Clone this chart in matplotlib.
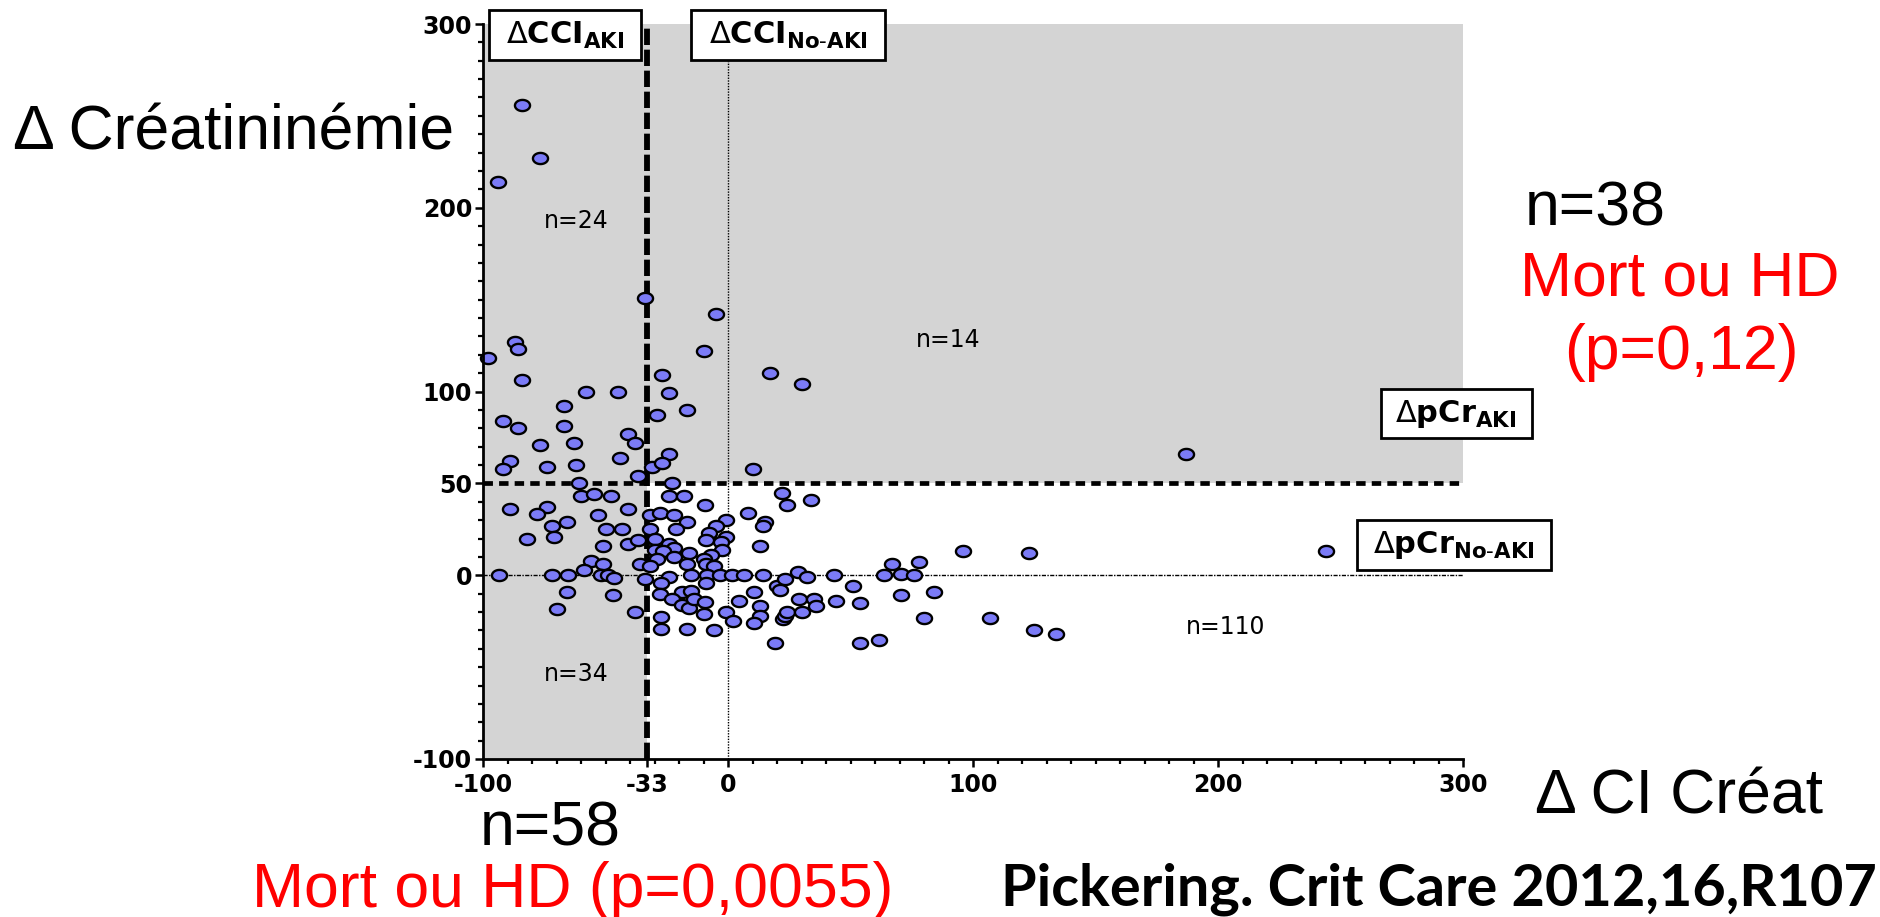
import numpy as np
import matplotlib
matplotlib.use("Agg")
import matplotlib.pyplot as plt
from matplotlib.path import Path
from matplotlib.patches import Rectangle

# ---------------- data ----------------
delta_ci = [
    -84, -77, -94, -34, -5, -87, -86, -98, -10, -84, -27, 17, 30, -58, -45, -24,
    -67, -17, -29, -92, -86, -67, -41, -38, -77, -63, -24, -89, -92, -74, -62, -44,
    -31, -27, 10, -37, 187, -61, -23,
    -60, -55, -48, -24, -18, 22, 34, 24, -9.5, -89, -74, -78, -41, -53, -32, -28,
    -22, 8, -72, -66, -17, -1, -5, 15, 14, -82, -71, -50, -43.5, -32, -21.5, -8,
    -1, -51, -41, -37, -30, -24, -22, -9, -3, 13, -2.4, -30, -26.5, -16, -7, -56,
    -51, -29, -22, -10, -36, -17, -9, -6, -59, -32,
    -93.5, -72, -65.6, -52, -49, -46.5, -34, -24, -15, -8.6, -3.4, 1.6, 6.4, 14,
    28.6, 32, 43, 63.6, 67, 70.5, 76, 78,
    -66, -47, -70, -38, -27.6, -28, -19, -15, -9, -23, -19, -16, -14, -9.5, -10,
    -1, 2, 4.5, 10.5, 13, 13, 10.5, 20, 21, 23, 22.4, 23, 24, 30, 29, 35, 36, 44,
    51, 54, -27.6, -27.6, -17, -6, 19, 54, 61.6, 70.5, 84, 80, 107, 125, 134, 96,
    123, 244,
]
delta_creat = [
    256, 227, 214, 151, 142, 127, 123, 118, 122, 106, 109, 110, 104, 100, 100, 99,
    92, 90, 87, 84, 80, 81, 77, 72, 71, 72, 66, 62, 58, 59, 60, 64,
    59, 61, 58, 54, 66, 50, 50,
    43, 44, 43, 43, 43, 45, 41, 38, 38, 36, 37, 33.5, 36, 33, 33, 34,
    33, 34, 27, 29, 29, 30, 27, 29, 27, 20, 21, 25, 25, 25, 25, 23,
    21, 16, 17, 19, 20, 17, 15, 19, 18, 16, 14, 14, 13, 12, 11, 8,
    6, 9, 10, 9, 6, 6, 6, 5, 3, 5,
    0, 0, 0, 0, 0, -1.3, -1.8, -1, 0, 0, 0, 0, 0, 0,
    2, -1, 0, 0, 6, 0.5, 0, 7,
    -9, -11, -18.5, -20, -4.3, -10, -9, -8.5, -4, -13, -16, -18, -13, -14.5, -21,
    -20, -25, -14, -9, -17, -22, -26, -6, -8, -2, -24, -22, -20, -20, -13, -13, -17, -14,
    -6, -15, -22.5, -29, -29, -30, -37, -37, -35, -11, -9, -23, -23, -30, -32, 13,
    12, 13,
]

x_tick_values = [-100, -33, 0, 100, 200, 300]
y_tick_values = [-100, 0, 50, 100, 200, 300]
thr_ci = -33
thr_creat = 50

quadrant_labels = ["n=24", "n=14", "n=34", "n=110"]
quadrant_pos = [(-62, 193), (90, 128), (-62, -54), (203, -28)]

# ---------------- figure ----------------
W, H = 1880, 917
fig = plt.figure(figsize=(W / 100, H / 100), dpi=100)
fig.patch.set_facecolor("white")


def fx(px):
    return px / W


def fy(py):
    return 1 - py / H


ax = fig.add_axes([fx(483.3), fy(759), (1463 - 483.3) / W, (759 - 24) / H])
ax.set_xlim(-100, 300)
ax.set_ylim(-100, 300)
ax.set_facecolor("none")

gray = "#d4d4d4"
ax.add_patch(Rectangle((-100, -100), thr_ci + 100, 400, facecolor=gray,
                       edgecolor="none", zorder=0))
ax.add_patch(Rectangle((thr_ci, thr_creat), 300 - thr_ci, 300 - thr_creat,
                       facecolor=gray, edgecolor="none", zorder=0))

# thin reference lines
ax.plot([0, 0], [-100, 280], color="black", lw=1.0, ls=(0, (1, 1)), zorder=1)
ax.plot([-100, 300], [0, 0], color="black", lw=1.0, ls=(0, (3, 1, 1, 1)), zorder=1)

# thick threshold lines
ax.plot([thr_ci, thr_ci], [-100, 300], color="black", lw=4.2,
        ls=(0, (2.8, 0.8)), zorder=2)
ax.plot([-100, 300], [thr_creat, thr_creat], color="black", lw=3.4,
        ls=(0, (2.0, 1.3)), zorder=2)

# ellipse marker
t = np.linspace(0, 2 * np.pi, 60)
ell = Path(np.column_stack([np.cos(t), 0.74 * np.sin(t)]), closed=True)
ax.scatter(delta_ci, delta_creat, s=118, marker=ell, facecolor="#7b7bf7",
           edgecolor="black", linewidths=1.7, zorder=3, clip_on=False)

# axes styling
for side in ["top", "right"]:
    ax.spines[side].set_visible(False)
for side in ["left", "bottom"]:
    ax.spines[side].set_linewidth(2.0)
    ax.spines[side].set_zorder(4)

ax.set_xticks(x_tick_values)
ax.set_xticklabels([str(v) for v in x_tick_values])
ax.set_yticks(y_tick_values)
ax.set_yticklabels([str(v) for v in y_tick_values])
ax.set_xticks(np.arange(-100, 301, 10), minor=True)
ax.set_yticks(np.arange(-100, 301, 10), minor=True)
ax.tick_params(which="major", direction="out", length=6, width=1.8, pad=4,
               labelsize=17)
ax.tick_params(which="minor", direction="out", length=3.5, width=1.6)
ax.tick_params(axis="y", which="major", pad=2)
for lab in ax.get_xticklabels() + ax.get_yticklabels():
    lab.set_fontfamily("DejaVu Sans")
    lab.set_fontweight("bold")

# quadrant counts
for lab, (qx, qy) in zip(quadrant_labels, quadrant_pos):
    ax.text(qx, qy, lab, fontsize=17, family="DejaVu Sans", ha="center",
            va="center", zorder=5)

# threshold boxes
boxes = [
    ((-97.6, 280.4), (-35.8, 307.6), r"$\Delta\mathbf{CCI}_{\mathbf{AKI}}$"),
    ((-15.2, 280.4), (64.0, 307.6), r"$\Delta\mathbf{CCI}_{\mathbf{No\text{-}AKI}}$"),
    ((266.4, 74.5), (328.0, 101.1), r"$\Delta\mathbf{pCr}_{\mathbf{AKI}}$"),
    ((256.6, 2.7), (335.8, 29.9), r"$\Delta\mathbf{pCr}_{\mathbf{No\text{-}AKI}}$"),
]
for (x0, y0), (x1, y1), txt in boxes:
    ax.add_patch(Rectangle((x0, y0), x1 - x0, y1 - y0, facecolor="white",
                           edgecolor="black", lw=2.0, zorder=6, clip_on=False))
    ax.text((x0 + x1) / 2, (y0 + y1) / 2, txt, fontsize=22, ha="center",
            va="center", zorder=7, clip_on=False)

# big labels
big = dict(family="Liberation Sans", fontsize=45)
fig.text(fx(13), fy(150), "Δ Créatininémie", ha="left", va="baseline",
         color="black", **big)
fig.text(fx(1535), fy(814), "Δ CI Créat", ha="left", va="baseline",
         color="black", **big)
fig.text(fx(1525), fy(225), "n=38", ha="left", va="baseline", color="black", **big)
fig.text(fx(1520), fy(296), "Mort ou HD", ha="left", va="baseline", color="red", **big)
fig.text(fx(1681), fy(369), "(p=0,12)", ha="center", va="baseline", color="red", **big)
fig.text(fx(480), fy(845), "n=58", ha="left", va="baseline", color="black", **big)
fig.text(fx(252), fy(907), "Mort ou HD (p=0,0055)", ha="left", va="baseline",
         color="red", **big)

ref = fig.text(fx(1001), fy(905), "Pickering. Crit Care 2012,16,R107",
               ha="left", va="baseline", family="Lato", fontweight="bold",
               fontsize=36, color="black")
fig.canvas.draw()
bb = ref.get_window_extent()
ref.set_fontsize(36 * 875 / bb.width)

fig.savefig("out.png", dpi=100, facecolor="white")
